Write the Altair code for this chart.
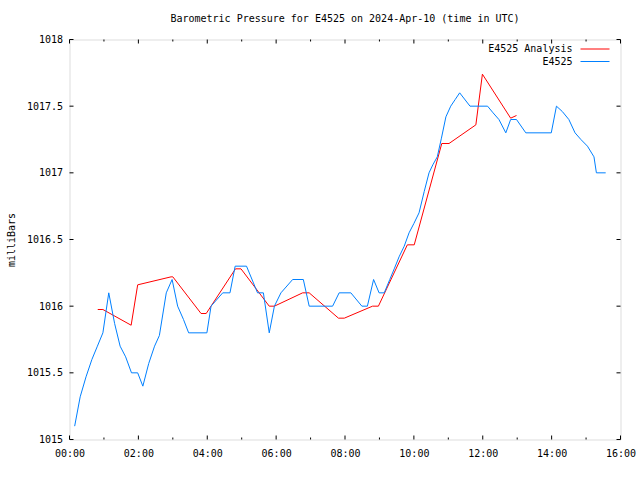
import altair as alt
import pandas as pd

title_text = "Barometric Pressure for E4525 on 2024-Apr-10 (time in UTC)"
y_title = "milliBars"
series_names = ["E4525 Analysis", "E4525"]
series_colors = ["#ff0000", "#0080ff"]

# E4525 Analysis (hours UTC, mb)
analysis_hours = [0.82, 0.97, 1.79, 1.98, 2.95, 3.0, 3.82, 3.97, 4.82, 4.98,
                  5.8, 5.95, 6.77, 6.96, 7.81, 7.98, 8.8, 8.97, 9.81, 10.01,
                  10.81, 11.02, 11.8, 11.99, 12.81, 12.98]
analysis_values = [1015.975, 1015.975, 1015.857, 1016.16, 1016.22, 1016.22, 1015.945, 1015.945, 1016.28, 1016.28,
                   1016.0, 1016.0, 1016.1, 1016.1, 1015.91, 1015.91, 1016.0, 1016.0, 1016.46, 1016.46,
                   1017.22, 1017.22, 1017.36, 1017.74, 1017.41, 1017.43]

# E4525 observations (hours UTC, mb)
obs_hours = [0.15, 0.31, 0.48, 0.65, 0.81, 0.97, 1.14, 1.31, 1.47, 1.63,
             1.8, 1.98, 2.13, 2.3, 2.47, 2.61, 2.81, 2.98, 3.14, 3.31,
             3.46, 3.99, 4.11, 4.45, 4.66, 4.81, 5.14, 5.46, 5.63, 5.8,
             5.95, 6.14, 6.48, 6.79, 6.96, 7.64, 7.83, 8.17, 8.49, 8.65,
             8.83, 8.99, 9.14, 9.3, 9.43, 9.57, 9.72, 9.86, 10.0, 10.15,
             10.3, 10.44, 10.55, 10.68, 10.8, 10.93, 11.07, 11.2, 11.33, 11.63,
             12.14, 12.3, 12.47, 12.67, 12.81, 12.98, 13.25, 13.99, 14.14, 14.31,
             14.5, 14.68, 14.85, 15.04, 15.23, 15.3, 15.57]
obs_values = [1015.1, 1015.32, 1015.47, 1015.6, 1015.7, 1015.8, 1016.1, 1015.87, 1015.7, 1015.62,
              1015.5, 1015.5, 1015.4, 1015.57, 1015.7, 1015.78, 1016.1, 1016.2, 1016.0, 1015.9,
              1015.8, 1015.8, 1016.0, 1016.1, 1016.1, 1016.3, 1016.3, 1016.1, 1016.1, 1015.8,
              1016.0, 1016.1, 1016.2, 1016.2, 1016.0, 1016.0, 1016.1, 1016.1, 1016.0, 1016.0,
              1016.2, 1016.1, 1016.1, 1016.2, 1016.28, 1016.37, 1016.45, 1016.55, 1016.62, 1016.7,
              1016.86, 1017.0, 1017.06, 1017.12, 1017.26, 1017.42, 1017.5, 1017.55, 1017.6, 1017.5,
              1017.5, 1017.45, 1017.4, 1017.3, 1017.4, 1017.4, 1017.3, 1017.3, 1017.5, 1017.46,
              1017.4, 1017.3, 1017.25, 1017.2, 1017.12, 1017.0, 1017.0]

x_major = [0, 2, 4, 6, 8, 10, 12, 14, 16]
x_minor = [1, 3, 5, 7, 9, 11, 13, 15]
y_ticks = [1015, 1015.5, 1016, 1016.5, 1017, 1017.5, 1018]

FONT = "DejaVu Sans Mono"
W, H = 551, 400

xscale = alt.Scale(domain=[0, 16], nice=False, zero=False)
yscale = alt.Scale(domain=[1015, 1018], nice=False, zero=False)

xaxis = alt.Axis(values=x_major,
                 labelExpr="(datum.value < 10 ? '0' : '') + datum.value + ':00'",
                 ticks=False, tickSize=0, domain=False, grid=False, labelPadding=9,
                 title=None, labelFont=FONT, labelFontSize=10, labelColor="black",
                 labelFlush=False, labelOverlap=False)
yaxis = alt.Axis(values=y_ticks, labelExpr="'' + datum.value",
                 ticks=False, tickSize=0, domain=False, grid=False, labelPadding=7,
                 title=y_title, titleFont=FONT, titleFontSize=10, titleFontWeight="normal",
                 titleColor="black", titleAngle=-90, titleX=-58, titleY=H / 2,
                 titleAlign="center", titleBaseline="middle",
                 labelFont=FONT, labelFontSize=10, labelColor="black", labelBaseline="middle",
                 labelFlush=False, labelOverlap=False)

X = alt.X("hour:Q", scale=xscale, axis=xaxis)
Y = alt.Y("value:Q", scale=yscale, axis=yaxis)

ana_df = pd.DataFrame({"hour": analysis_hours, "value": analysis_values})
obs_df = pd.DataFrame({"hour": obs_hours, "value": obs_values})

ana = alt.Chart(ana_df).mark_line(color=series_colors[0], strokeWidth=1).encode(x=X, y=Y)
obs = alt.Chart(obs_df).mark_line(color=series_colors[1], strokeWidth=1).encode(x=X, y=Y)

xmaj_df = pd.DataFrame({"hour": x_major})
xmin_df = pd.DataFrame({"hour": x_minor})
ytk_df = pd.DataFrame({"value": y_ticks})

tick = dict(color="black", strokeWidth=1)
layers = [
    alt.Chart(xmaj_df).mark_rule(**tick).encode(x=X, y=alt.value(H), y2=alt.value(H - 4)),
    alt.Chart(xmaj_df).mark_rule(**tick).encode(x=X, y=alt.value(0), y2=alt.value(4)),
    alt.Chart(xmin_df).mark_rule(**tick).encode(x=X, y=alt.value(H), y2=alt.value(H - 2)),
    alt.Chart(xmin_df).mark_rule(**tick).encode(x=X, y=alt.value(0), y2=alt.value(2)),
    alt.Chart(ytk_df).mark_rule(**tick).encode(y=Y, x=alt.value(0), x2=alt.value(4)),
    alt.Chart(ytk_df).mark_rule(**tick).encode(y=Y, x=alt.value(W), x2=alt.value(W - 4)),
    ana,
    obs,
]

leg_y = [9.5, 22]
for i, name in enumerate(series_names):
    ldf = pd.DataFrame({"name": [name]})
    layers.append(alt.Chart(ldf).mark_text(align="right", baseline="middle", font=FONT,
                                           fontSize=10, color="black").encode(
        text="name:N", x=alt.value(503), y=alt.value(leg_y[i])))
    layers.append(alt.Chart(ldf).mark_rule(color=series_colors[i], strokeWidth=1).encode(
        x=alt.value(511), x2=alt.value(540), y=alt.value(leg_y[i])))

chart = alt.layer(*layers).properties(
    width=W, height=H,
    title=alt.TitleParams(title_text, font=FONT, fontSize=10, fontWeight="normal",
                          color="black", anchor="middle", offset=11),
    autosize=alt.AutoSizeParams(type="none"),
    padding={"left": 69.5, "top": 39.5, "right": 19.5, "bottom": 40.5},
).configure_view(stroke="black", strokeWidth=1).configure(background="white")

chart.save("out.html", embed_options={"renderer": "svg", "actions": False})
